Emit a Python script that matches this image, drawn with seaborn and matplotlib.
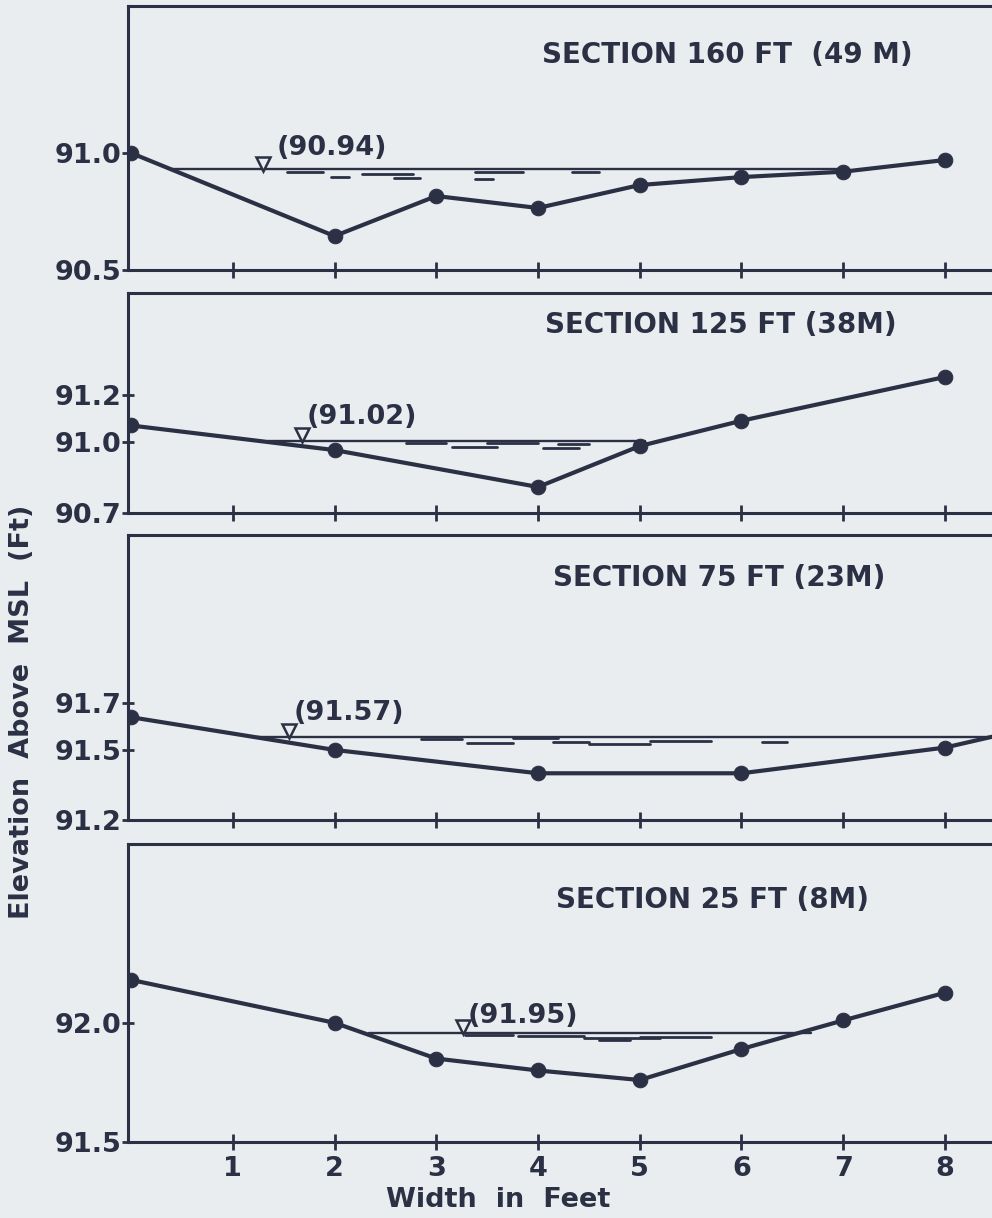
import matplotlib
matplotlib.use("Agg")
import matplotlib.pyplot as plt
import seaborn as sns
import pandas as pd

# ---------------- data ----------------
titles = ["SECTION 160 FT  (49 M)", "SECTION 125 FT (38M)",
          "SECTION 75 FT (23M)", "SECTION 25 FT (8M)"]

x_160 = [0, 2, 3, 4, 5, 6, 7, 8]
z_160 = [91.00, 90.645, 90.816, 90.765, 90.863, 90.897, 90.92, 90.97]

x_125 = [0, 2, 4, 5, 6, 8]
z_125 = [91.07, 90.966, 90.81, 90.983, 91.09, 91.275]

x_75 = [0, 2, 4, 6, 8, 9]
z_75 = [91.64, 91.50, 91.40, 91.40, 91.51, 91.61]

x_25 = [0, 2, 3, 4, 5, 6, 7, 8]
z_25 = [92.18, 92.00, 91.85, 91.80, 91.76, 91.89, 92.01, 92.126]

water_labels = ["(90.94)", "(91.02)", "(91.57)", "(91.95)"]
water_level = [90.93, 91.004, 91.555, 91.958]
water_start = [0.39, 1.35, 1.23, 2.34]
water_end = [6.95, 5.05, 8.6, 6.68]

yticks_list = [[90.5, 91.0], [90.7, 91.0, 91.2], [91.2, 91.5, 91.7], [91.5, 92.0]]
ytick_labels = [["90.5", "91.0"], ["90.7", "91.0", "91.2"],
                ["91.2", "91.5", "91.7"], ["91.5", "92.0"]]
xticks = [1, 2, 3, 4, 5, 6, 7, 8]
xtick_labels = ["1", "2", "3", "4", "5", "6", "7", "8"]

# dashes under water surface: (x0, x1, depth below surface)
dashes_160 = [(1.53, 1.89, 0.013), (1.97, 2.14, 0.034), (2.27, 2.77, 0.02),
              (2.58, 2.84, 0.036), (3.38, 3.85, 0.012), (3.38, 3.56, 0.04),
              (4.33, 4.6, 0.012)]
dashes_125 = [(2.7, 3.1, 0.01), (3.15, 3.6, 0.025), (3.5, 4.0, 0.008),
              (4.05, 4.4, 0.03), (4.2, 4.5, 0.012)]
dashes_75 = [(2.85, 3.25, 0.01), (3.3, 3.75, 0.025), (3.75, 4.2, 0.005),
             (4.15, 4.5, 0.02), (4.5, 5.1, 0.03), (5.1, 5.7, 0.015),
             (6.2, 6.45, 0.02)]
dashes_25 = [(3.28, 3.75, 0.01), (3.8, 4.45, 0.012), (4.45, 5.2, 0.02),
             (4.6, 4.9, 0.03), (5.0, 5.7, 0.017)]

ylims = [(90.5, 91.628), (90.7, 91.63), (91.2, 92.42), (91.5, 92.75)]
title_pos = [(5.86, 91.42), (5.80, 91.494), (5.78, 92.238), (5.72, 92.517)]
label_pos = [(1.43, 91.02), (1.725, 91.105), (1.60, 91.657), (3.31, 92.03)]
tri_x = [1.30, 1.676, 1.55, 3.26]
tri_off = [0.024, 0.024, 0.024, 0.024]

# --------------- style ---------------
sns.set_style("ticks")
INK = "#2b3045"
BG = "#e9edf0"
plt.rcParams["font.family"] = ["DejaVu Sans"]
plt.rcParams["font.weight"] = "bold"

FS = 19.5

fig = plt.figure(figsize=(9.92, 12.18), dpi=100, facecolor=BG)

H = 1218.0
W = 992.0
panels_px = [(6, 270), (293, 513), (535, 820), (844, 1142)]
left = 128 / W

xs = [x_160, x_125, x_75, x_25]
zs = [z_160, z_125, z_75, z_25]
dashes = [dashes_160, dashes_125, dashes_75, dashes_25]

for i, (top, bot) in enumerate(panels_px):
    ax = fig.add_axes([left, 1 - bot / H, 1.0 - left + 0.01, (bot - top) / H])
    ax.set_facecolor(BG)
    df = pd.DataFrame({"x": xs[i], "z": zs[i]})
    sns.lineplot(data=df, x="x", y="z", ax=ax, color=INK, linewidth=3.0,
                 marker="o", markersize=10.5, markeredgecolor=INK,
                 markerfacecolor=INK, clip_on=True, zorder=4)
    # water surface
    ax.plot([water_start[i], water_end[i]], [water_level[i]] * 2,
            color=INK, linewidth=1.7, zorder=3)
    # triangle marker
    ax.plot([tri_x[i]], [water_level[i] + tri_off[i]], marker="v",
            markersize=10, markerfacecolor=BG, markeredgecolor=INK,
            markeredgewidth=1.8, linestyle="none", zorder=5)
    ax.text(label_pos[i][0], label_pos[i][1], water_labels[i], fontsize=FS,
            fontweight="bold", color=INK, ha="left", va="center")
    for (a, b, d) in dashes[i]:
        ax.plot([a, b], [water_level[i] - d] * 2, color=INK, linewidth=2.0,
                zorder=3)
    ax.text(title_pos[i][0], title_pos[i][1], titles[i], fontsize=20,
            fontweight="bold", color=INK, ha="center", va="center")

    ax.set_xlim(-0.03, 8.56)
    ax.set_ylim(*ylims[i])
    ax.set_yticks(yticks_list[i])
    ax.set_yticklabels(ytick_labels[i], fontsize=FS, fontweight="bold", color=INK)
    ax.set_xticks(xticks)
    if i == 3:
        ax.set_xticklabels(xtick_labels, fontsize=FS, fontweight="bold", color=INK)
    else:
        ax.set_xticklabels([])
    ax.tick_params(axis="x", direction="inout", length=12, width=2, colors=INK,
                   pad=4)
    ax.tick_params(axis="y", direction="inout", length=8, width=2, colors=INK,
                   pad=1)
    ax.set_xlabel("")
    ax.set_ylabel("")
    for s in ["top", "left", "bottom"]:
        ax.spines[s].set_visible(True)
        ax.spines[s].set_color(INK)
        ax.spines[s].set_linewidth(2.2)
    ax.spines["right"].set_visible(False)

fig.text(498 / W, 1 - 1200 / H, "Width  in  Feet", fontsize=FS,
         fontweight="bold", color=INK, ha="center", va="center")
fig.text(22 / W, 1 - 712 / H, "Elevation  Above  MSL  (Ft)", fontsize=FS,
         fontweight="bold", color=INK, ha="center", va="center", rotation=90)

fig.savefig("out.png", dpi=100, facecolor=BG)
